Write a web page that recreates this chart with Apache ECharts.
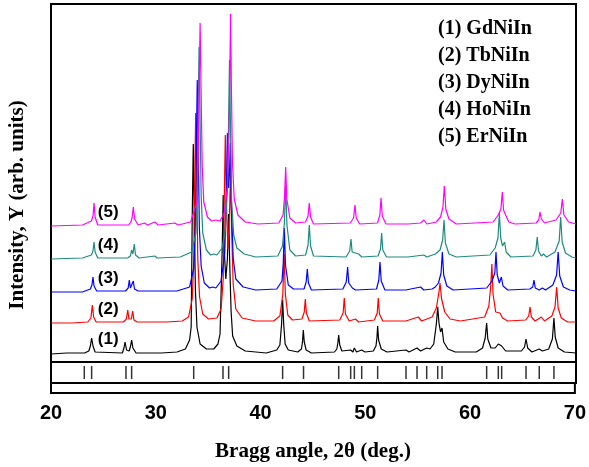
<!DOCTYPE html>
<html>
<head>
<meta charset="utf-8">
<script src="https://cdn.jsdelivr.net/npm/echarts@6/dist/echarts.min.js"></script>
<style>
  html, body { margin: 0; padding: 0; background: #fff; }
  #chart { width: 589px; height: 467px; }
</style>
</head>
<body>
<div id="chart"></div>
<script>
// compound names, in stacking order (bottom to top)
const names = ['(1) GdNiIn', '(2) TbNiIn', '(3) DyNiIn', '(4) HoNiIn', '(5) ErNiIn']
const tags = ['(1)', '(2)', '(3)', '(4)', '(5)']
const colors = ['#000000', '#ff0000', '#0000ff', '#1f8a80', '#ff00ff']
// vertical offset of each pattern (arb. units)
const offsets = [8, 38, 69, 102, 135]

// [2theta, intensity above own baseline]
const gd = [[20,0],[21.5,1],[23.2,1],[23.6,3],[23.75,8],[23.87,16],[24.0,8],[24.2,2],[26.8,1],[26.95,6],[27.05,12],[27.2,4],[27.45,3],[27.58,8],[27.68,14],[27.8,6],[28.1,1],[30.5,1],[32.0,2],[32.8,5],[33.2,14],[33.35,27],[33.45,137],[33.55,210],[33.65,137],[33.75,65],[33.9,27],[34.2,10],[34.8,5],[35.5,5],[35.9,10],[36.1,20],[36.3,103],[36.4,159],[36.5,103],[36.65,75],[36.8,95],[36.92,140],[37.02,91],[37.15,43],[37.3,18],[37.7,8],[38.5,3],[40.5,1],[41.5,4],[41.8,9],[41.96,30],[42.06,54],[42.16,30],[42.3,10],[42.6,4],[43.5,2],[43.85,5],[43.95,12],[44.03,24],[44.12,12],[44.3,4],[44.8,1],[47.0,2],[47.22,5],[47.32,11],[47.4,19],[47.5,9],[47.7,3],[48.54,4],[48.75,2],[48.89,6],[49.1,2],[49.59,4],[49.9,2],[50.7,3],[50.95,8],[51.04,16],[51.11,28],[51.2,14],[51.45,5],[52,2],[53.81,4],[54.1,2],[54.86,6],[55.2,3],[55.78,6],[56.1,5],[56.45,10],[56.7,30],[56.83,47],[56.95,31],[57.1,22],[57.24,26],[57.4,12],[57.8,5],[58.5,2],[60.5,2],[61.1,6],[61.35,16],[61.49,31],[61.6,15],[61.9,6],[62.3,6],[62.6,10],[62.75,8],[62.92,8],[63.3,3],[64.8,3],[65.1,7],[65.24,15],[65.4,6],[65.8,2],[66.5,5],[66.8,3],[67.4,5],[67.75,15],[67.9,36],[68.02,17],[68.3,6],[68.9,2],[70,1]]
const tb = [[20,1],[22,1],[23.5,2],[23.8,6],[23.94,19],[24.06,7],[24.3,2],[26.9,2],[27.18,5],[27.31,14],[27.42,5],[27.55,4],[27.66,5],[27.78,13],[27.9,4],[28.2,2],[31,2],[32.5,3],[33.1,7],[33.45,25],[33.6,65],[33.68,138],[33.78,211],[33.88,138],[33.98,65],[34.15,27],[34.45,10],[35,5],[35.8,6],[36.2,15],[36.4,45],[36.5,123],[36.6,189],[36.7,123],[36.85,75],[37.0,110],[37.1,150],[37.2,95],[37.35,40],[37.6,15],[38.2,6],[39.5,3],[41.2,3],[41.8,8],[42.08,30],[42.2,70],[42.32,30],[42.55,9],[43,4],[43.9,5],[44.12,12],[44.22,25],[44.32,11],[44.6,3],[47.5,4],[47.82,11],[47.93,26],[48.04,10],[48.4,3],[49.0,5],[49.3,2],[50.8,4],[51.07,11],[51.17,26],[51.28,10],[51.6,3],[53.8,3],[54.98,7],[55.3,3],[56.3,7],[56.7,16],[56.95,32],[57.05,41],[57.2,25],[57.5,12],[58,5],[59,3],[61.3,7],[61.7,18],[61.88,38],[61.99,60],[62.1,30],[62.35,12],[62.76,11],[63.0,6],[63.5,3],[65.2,4],[65.5,8],[65.62,17],[65.75,7],[66.1,3],[66.7,7],[67.0,3],[67.7,8],[68.0,17],[68.16,37],[68.3,16],[68.6,6],[69.2,2],[70,2]]
const dy = [[20,1],[23,1],[23.75,4],[23.9,8],[24.0,16],[24.1,7],[24.35,2],[27.1,2],[27.35,5],[27.46,13],[27.56,5],[27.72,5],[27.84,12],[27.95,4],[28.3,2],[32,2],[33.2,6],[33.6,25],[33.75,65],[33.83,138],[33.93,213],[34.03,138],[34.13,65],[34.3,27],[34.6,10],[35.1,5],[35.4,6],[35.7,5],[36.2,12],[36.55,40],[36.7,100],[36.8,160],[36.9,105],[37.0,120],[37.08,150],[37.17,90],[37.35,35],[37.6,14],[38.3,6],[39.5,3],[41.5,4],[42.0,12],[42.12,30],[42.22,65],[42.33,28],[42.6,8],[43.1,4],[44.1,4],[44.3,11],[44.41,24],[44.52,10],[44.8,3],[47.8,4],[48.12,11],[48.25,26],[48.36,10],[48.7,5],[49.0,3],[51.0,4],[51.22,13],[51.33,31],[51.45,12],[51.8,3],[53.8,3],[55.2,6],[55.5,3],[56.3,4],[56.6,6],[56.9,10],[57.15,20],[57.27,41],[57.4,18],[57.7,7],[58.3,3],[61.5,5],[62.0,12],[62.27,20],[62.38,41],[62.5,18],[62.7,10],[62.89,16],[63.05,7],[63.5,3],[65.6,4],[65.88,6],[66.0,13],[66.12,5],[66.5,3],[66.8,5],[67.1,3],[67.8,8],[68.15,18],[68.3,41],[68.45,17],[68.8,6],[69.4,3],[70,2]]
const ho = [[20,1],[23,2],[23.85,5],[24.0,9],[24.1,18],[24.2,8],[24.45,2],[27.3,2],[27.56,4],[27.68,10],[27.8,6],[27.93,16],[28.05,5],[28.4,2],[29.9,4],[30.1,2],[32.3,3],[33.4,8],[33.8,27],[33.92,65],[34.0,138],[34.1,213],[34.2,138],[34.3,65],[34.45,27],[34.8,10],[35.2,5],[35.5,6],[35.8,5],[36.3,12],[36.6,30],[36.8,70],[36.9,130],[37.0,200],[37.1,130],[37.2,60],[37.4,25],[37.7,12],[38.4,6],[39.5,3],[41.6,4],[42.05,14],[42.23,38],[42.35,75],[42.47,35],[42.75,10],[43.3,4],[44.25,5],[44.48,15],[44.6,35],[44.72,14],[45.0,4],[48.1,3],[48.45,9],[48.57,21],[48.68,8],[49.3,6],[49.6,3],[51.15,4],[51.38,11],[51.49,27],[51.6,10],[51.95,3],[54,3],[55.5,5],[55.8,3],[56.6,6],[57.05,10],[57.3,20],[57.43,40],[57.56,17],[57.9,6],[58.6,3],[61.8,5],[62.3,12],[62.57,22],[62.7,47],[62.83,22],[63.0,14],[63.2,18],[63.35,8],[63.8,3],[65.9,4],[66.18,10],[66.31,23],[66.43,9],[66.7,4],[66.9,6],[67.2,3],[68.0,8],[68.4,19],[68.54,43],[68.68,18],[69.0,7],[69.6,3],[70,2]]
const er = [[20,1],[23,2],[23.85,6],[24.0,11],[24.1,24],[24.2,10],[24.45,2],[27.4,2],[27.6,5],[27.72,9],[27.84,20],[27.96,8],[28.3,2],[28.9,4],[29.2,2],[29.9,5],[30.2,2],[31.8,4],[32.1,2],[33.3,5],[33.9,25],[34.02,62],[34.1,132],[34.2,204],[34.3,132],[34.4,62],[34.55,25],[34.9,10],[35.3,6],[35.7,7],[36.1,6],[36.5,14],[36.8,40],[36.95,90],[37.02,140],[37.1,213],[37.18,140],[37.28,65],[37.45,28],[37.8,12],[38.5,5],[39.7,3],[41.7,4],[42.1,12],[42.24,30],[42.35,60],[42.46,28],[42.75,9],[43.3,4],[44.25,5],[44.48,11],[44.6,24],[44.72,10],[45.0,3],[48.5,4],[48.82,9],[48.95,22],[49.07,9],[49.4,3],[51.1,4],[51.32,12],[51.43,29],[51.55,11],[51.9,3],[54,3],[55.2,4],[55.52,7],[55.8,3],[56.7,5],[57.1,10],[57.33,20],[57.46,41],[57.6,18],[57.9,8],[58.6,3],[62.1,5],[62.6,12],[62.85,18],[62.98,35],[63.1,17],[63.3,12],[63.6,5],[64.2,3],[66.2,4],[66.45,7],[66.57,15],[66.7,8],[67.0,4],[68.1,7],[68.55,14],[68.7,28],[68.85,12],[69.3,5],[70,3]]
const patterns = [gd, tb, dy, ho, er]

// Bragg reflection positions (GdNiIn)
const braggPos = [23.17, 23.87, 27.14, 27.68, 33.59, 36.38, 36.92, 42.06, 44.05, 47.4, 48.54, 48.89, 49.59, 51.11, 53.81, 54.86, 55.78, 56.83, 57.24, 61.49, 62.6, 62.92, 65.24, 66.5, 67.9]

const xTicks = [20, 30, 40, 50, 60, 70]

const serif = '"Liberation Serif", "Times New Roman", serif'
const sans = '"Liberation Sans", Arial, sans-serif'

const chart = echarts.init(document.getElementById('chart'))

const lineSeries = patterns.map((p, i) => ({
  name: names[i],
  type: 'line',
  xAxisIndex: 0,
  yAxisIndex: 0,
  data: p.map(d => [d[0], d[1] + offsets[i]]),
  showSymbol: false,
  symbol: 'none',
  animation: false,
  lineStyle: { color: colors[i], width: 1.2 },
  itemStyle: { color: colors[i] },
  markPoint: {
    symbol: 'circle',
    symbolSize: 0,
    animation: false,
    label: {
      show: true,
      formatter: tags[i],
      color: '#000',
      fontFamily: sans,
      fontWeight: 'bold',
      fontSize: 17,
      position: 'inside'
    },
    data: [{ coord: [25.45, offsets[i] + 15] }]
  }
}))

const option = {
  animation: false,
  backgroundColor: '#fff',
  grid: [
    { left: 51, right: 13, top: 4, height: 358, show: true, borderColor: '#000', borderWidth: 2, backgroundColor: 'transparent' },
    { left: 51, right: 13, top: 362, height: 21, show: true, borderColor: '#000', borderWidth: 2, backgroundColor: 'transparent' },
    { left: 51, right: 13, top: 383, height: 10, show: true, borderColor: '#000', borderWidth: 2, backgroundColor: 'transparent' }
  ],
  xAxis: [
    { gridIndex: 0, type: 'value', min: 20, max: 70, show: false },
    { gridIndex: 1, type: 'value', min: 20, max: 70, show: false },
    {
      gridIndex: 2, type: 'value', min: 20, max: 70, interval: 10,
      axisLine: { show: false }, axisTick: { show: false }, splitLine: { show: false },
      axisLabel: {
        margin: 10, fontSize: 20, fontWeight: 'bold', fontFamily: sans, color: '#000',
        formatter: v => xTicks.includes(v) ? String(v) : ''
      }
    }
  ],
  yAxis: [
    { gridIndex: 0, type: 'value', min: 0, max: 358, show: false },
    { gridIndex: 1, type: 'value', min: 0, max: 21, show: false },
    { gridIndex: 2, type: 'value', min: 0, max: 10, show: false }
  ],
  graphic: [
    {
      type: 'group', left: 438, top: 19,
      children: names.map((n, i) => ({
        type: 'text', x: 0, y: i * 27,
        style: { text: n, fill: '#000', font: 'bold 20px ' + serif }
      }))
    },
    {
      type: 'text', x: 313, y: 452,
      style: { text: 'Bragg angle, 2θ (deg.)', fill: '#000', font: 'bold 21px ' + serif, textAlign: 'center', textVerticalAlign: 'middle' }
    },
    {
      type: 'text', x: 18, y: 205, rotation: Math.PI / 2,
      style: { text: 'Intensity, Y (arb. units)', fill: '#000', font: 'bold 21px ' + serif, textAlign: 'center', textVerticalAlign: 'middle' }
    }
  ],
  series: [
    ...lineSeries,
    {
      type: 'scatter',
      xAxisIndex: 1,
      yAxisIndex: 1,
      data: braggPos.map(x => [x, 10.5]),
      symbol: 'rect',
      symbolSize: [1.5, 13],
      itemStyle: { color: '#000' },
      animation: false
    }
  ]
}

chart.setOption(option)
</script>
</body>
</html>
